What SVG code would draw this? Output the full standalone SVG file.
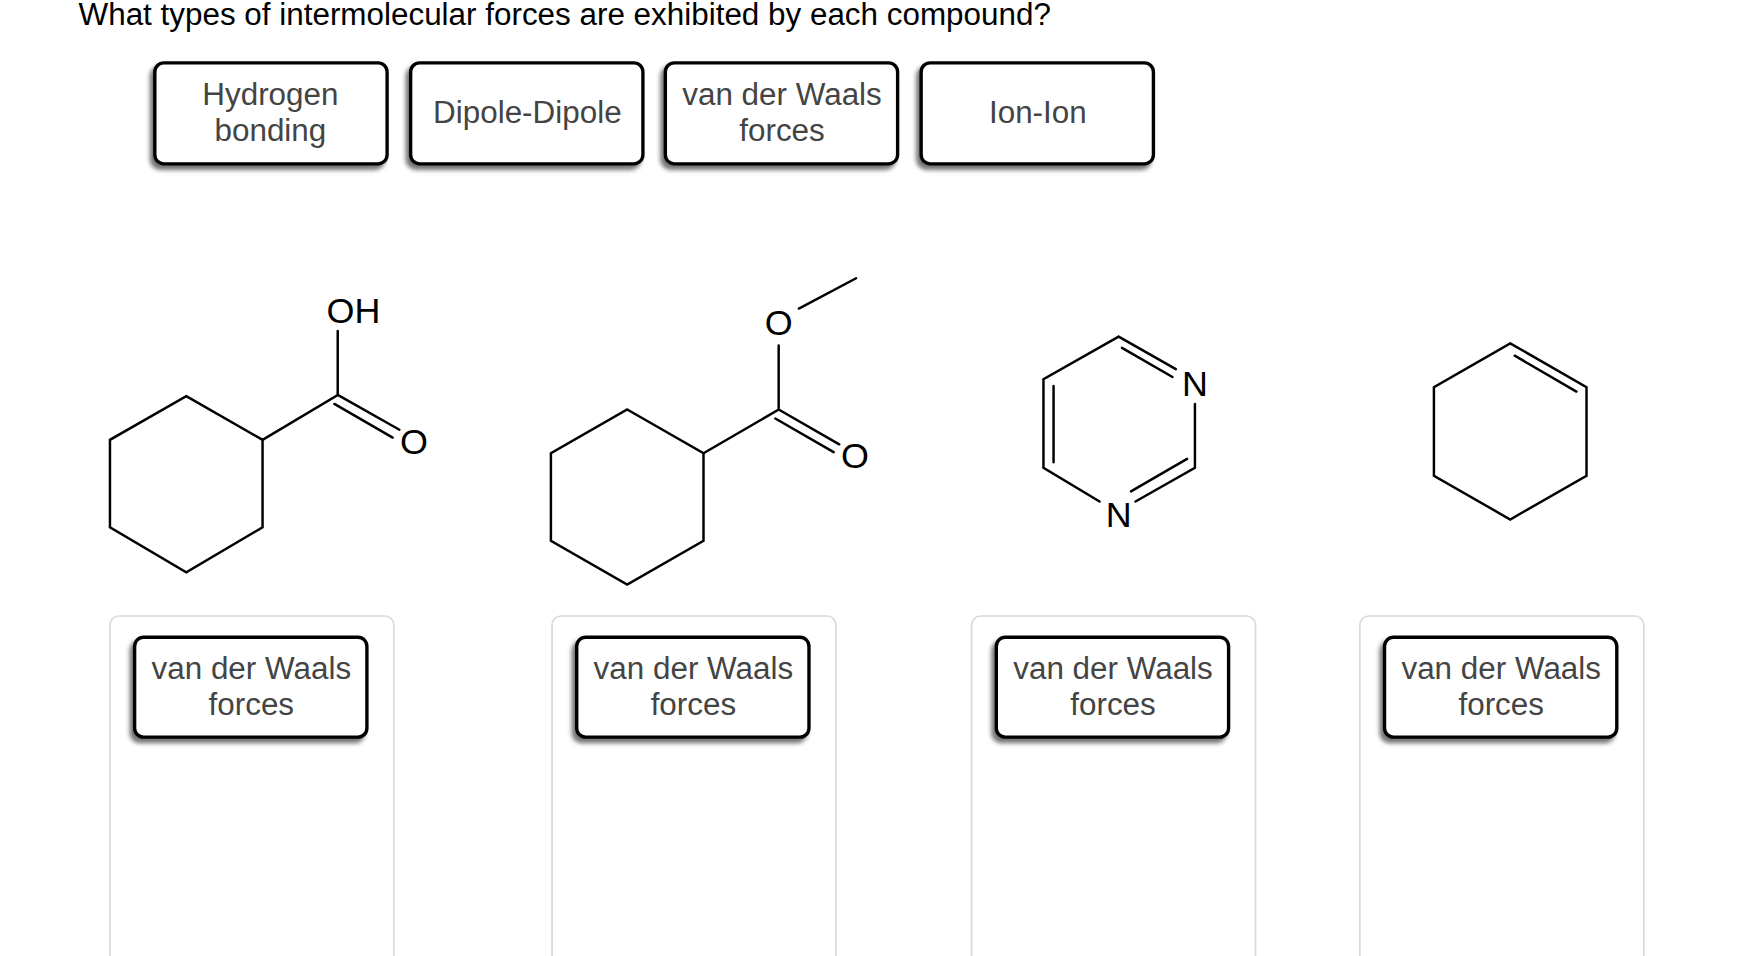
<svg xmlns="http://www.w3.org/2000/svg" width="1760" height="956" viewBox="0 0 1760 956">
<defs>
<filter id="sh" x="-10%" y="-10%" width="125%" height="130%"><feDropShadow dx="-3" dy="4" stdDeviation="2" flood-color="#000" flood-opacity="0.55"/></filter>
<style>
.btn{fill:#fff;stroke:#000;stroke-width:3;filter:url(#sh)}
.bt{font-family:"Liberation Sans",Arial,sans-serif;font-size:28px;fill:#444;text-anchor:middle}
.pan{fill:#fff;stroke:#d9d9d9;stroke-width:1.5}
.b{stroke:#000;stroke-width:2.2;fill:none;stroke-linecap:round}
.at{font-family:"Liberation Sans",Arial,sans-serif;font-size:32px;fill:#000;text-anchor:middle}
</style>
</defs>
<rect width="1760" height="956" fill="#fff"/>
<g transform="scale(1.122)">
<text x="70" y="22" font-family="Liberation Sans,Arial,sans-serif" font-size="28" fill="#000">What types of intermolecular forces are exhibited by each compound?</text>
<g id="opt1"><rect class="btn" x="138" y="56" width="207" height="90" rx="8"/><text class="bt" x="241" y="94">Hydrogen</text><text class="bt" x="241" y="126">bonding</text></g>
<g id="opt2"><rect class="btn" x="366" y="56" width="207" height="90" rx="8"/><text class="bt" x="470" y="110">Dipole-Dipole</text></g>
<g id="opt3"><rect class="btn" x="593" y="56" width="207" height="90" rx="8"/><text class="bt" x="697" y="94">van der Waals</text><text class="bt" x="697" y="126">forces</text></g>
<g id="opt4"><rect class="btn" x="821" y="56" width="207" height="90" rx="8"/><text class="bt" x="925" y="110">Ion-Ion</text></g>

<g id="mol1">
<polygon class="b" points="166,353 234,392 234,470 166,510 98,470 98,392"/>
<path class="b" d="M234,392 L301,352 L301,295 M301,352 L356,383 M298,360 L350,390"/>
<text class="at" x="315" y="288">OH</text>
<text class="at" x="369" y="405">O</text>
</g>
<g id="mol2">
<polygon class="b" points="559,365 627,404 627,482 559,521 491,482 491,404"/>
<path class="b" d="M627,404 L694,365 L694,308 M712,275 L763,248 M694,365 L748,396 M691,373 L743,403"/>
<text class="at" x="694" y="299">O</text>
<text class="at" x="762" y="417">O</text>
</g>
<g id="mol3">
<path class="b" d="M997,300 L1048,329 M1000,310 L1045,336 M1065,360 L1065,417 L1012,447 M1008,438 L1058,409 M980,447 L930,417 L930,338 L997,300 M939,344 L939,412"/>
<text class="at" x="1065" y="353">N</text>
<text class="at" x="997" y="470">N</text>
</g>
<g id="mol4">
<polygon class="b" points="1346,306 1414,345 1414,424 1346,463 1278,424 1278,345"/>
<path class="b" d="M1350,317 L1405,349"/>
</g>

<g id="ans1"><rect class="pan" x="98" y="549" width="253" height="320" rx="8"/><rect class="btn" x="120" y="568" width="207" height="89" rx="8"/><text class="bt" x="224" y="605">van der Waals</text><text class="bt" x="224" y="637">forces</text></g>
<g id="ans2"><rect class="pan" x="492" y="549" width="253" height="320" rx="8"/><rect class="btn" x="514" y="568" width="207" height="89" rx="8"/><text class="bt" x="618" y="605">van der Waals</text><text class="bt" x="618" y="637">forces</text></g>
<g id="ans3"><rect class="pan" x="866" y="549" width="253" height="320" rx="8"/><rect class="btn" x="888" y="568" width="207" height="89" rx="8"/><text class="bt" x="992" y="605">van der Waals</text><text class="bt" x="992" y="637">forces</text></g>
<g id="ans4"><rect class="pan" x="1212" y="549" width="253" height="320" rx="8"/><rect class="btn" x="1234" y="568" width="207" height="89" rx="8"/><text class="bt" x="1338" y="605">van der Waals</text><text class="bt" x="1338" y="637">forces</text></g>
<g id="connectors"/>
</g>
</svg>
